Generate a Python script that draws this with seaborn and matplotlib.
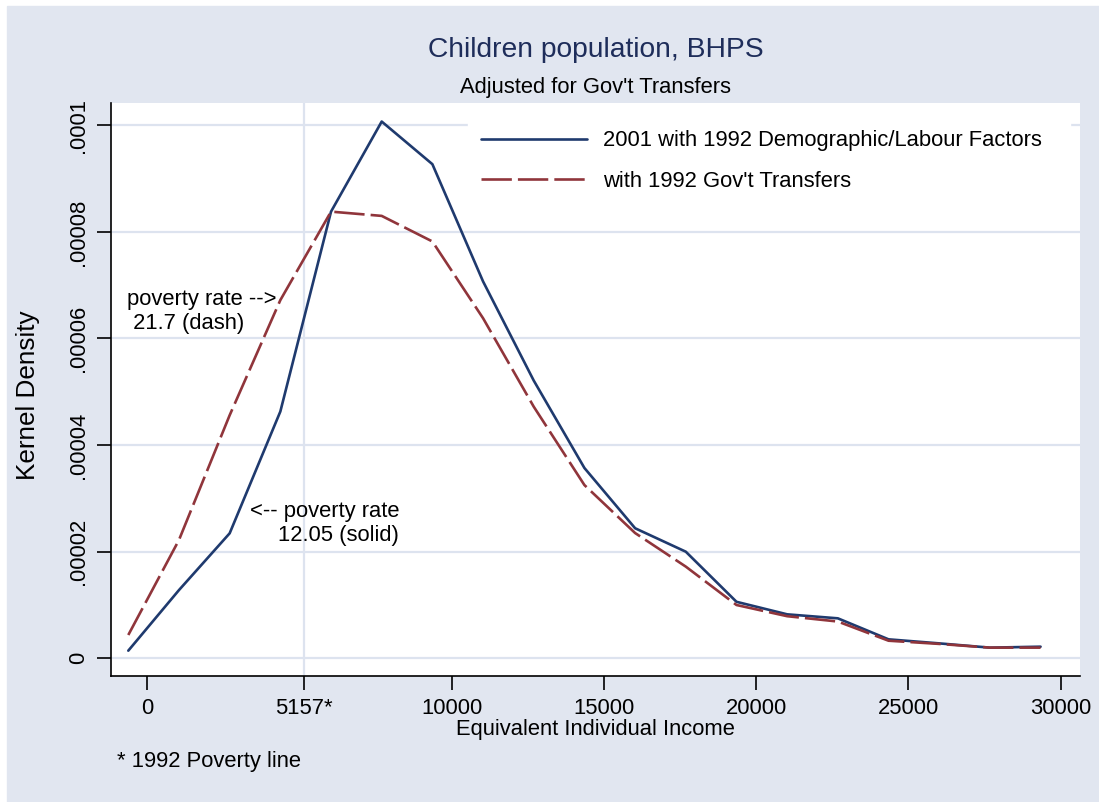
import matplotlib
matplotlib.use("Agg")
import matplotlib.pyplot as plt
import matplotlib.patches as mpatches
import numpy as np
import pandas as pd
import seaborn as sns

# kernel density evaluation points (income) and the two estimated densities
income = [-625, 1040, 2705, 4370, 6035, 7700, 9365, 11030, 12695, 14360,
          16025, 17690, 19355, 21020, 22685, 24350, 26015, 27680, 29345]
dens_2001 = [0.143, 1.28, 2.345, 4.63, 8.38, 10.07, 9.27, 7.07, 5.21, 3.57,
             2.44, 2.00, 1.06, 0.825, 0.75, 0.356, 0.28, 0.20, 0.218]
dens_1992 = [0.437, 2.22, 4.56, 6.72, 8.38, 8.30, 7.82, 6.38, 4.72, 3.25,
             2.35, 1.72, 1.00, 0.79, 0.69, 0.33, 0.27, 0.20, 0.20]
series_names = ["2001 with 1992 Demographic/Labour Factors",
                "with 1992 Gov't Transfers"]

x_ticks = [0, 5157, 10000, 15000, 20000, 25000, 30000]
x_ticklabels = ["0", "5157*", "10000", "15000", "20000", "25000", "30000"]
y_ticks = [0, 0.00002, 0.00004, 0.00006, 0.00008, 0.0001]
y_ticklabels = ["0", ".00002", ".00004", ".00006", ".00008", ".0001"]
poverty_line = 5157

df = pd.DataFrame({
    "income": income * 2,
    "density": [v * 1e-5 for v in dens_2001 + dens_1992],
    "series": [series_names[0]] * len(income) + [series_names[1]] * len(income),
})

sns.set_theme(style="white")
plt.rcParams["font.family"] = ["Liberation Sans", "DejaVu Sans"]
plt.rcParams["text.color"] = "black"
plt.rcParams["axes.labelcolor"] = "black"

bg = "#E1E6F0"
grid_col = "#DDE3EF"
navy = "#1F3A6E"
maroon = "#90353B"
fs = 15.8

W, H = 1099, 802
fig = plt.figure(figsize=(W / 100, H / 100), dpi=100)
fig.patch.set_facecolor("white")
fig.add_artist(mpatches.Rectangle((7 / W, 0), (W - 7) / W, (H - 6) / H,
                                  transform=fig.transFigure, color=bg, zorder=-10))

L, R, T, B = 111, 1080, 103, 676
ax = fig.add_axes([L / W, 1 - B / H, (R - L) / W, (B - T) / H])
ax.set_facecolor("white")

for yv in y_ticks:
    ax.axhline(yv, color=grid_col, lw=1.6, zorder=0)
ax.axvline(poverty_line, color=grid_col, lw=1.6, zorder=0)

sns.lineplot(data=df, x="income", y="density", hue="series", style="series",
             palette={series_names[0]: navy, series_names[1]: maroon},
             dashes={series_names[0]: "", series_names[1]: (11.5, 2.3)},
             linewidth=1.9, sort=False, estimator=None, ax=ax)

ax.set_xlim(-1193, 30640)
ax.set_ylim(-3.32e-6, 1.0418e-4)

ax.set_xticks(x_ticks)
ax.set_xticklabels(x_ticklabels, fontsize=fs)
ax.set_yticks(y_ticks)
ax.set_yticklabels(y_ticklabels, fontsize=fs, rotation=90, va="center")
ax.tick_params(axis="both", direction="out", length=10, width=1.2, color="black",
               labelcolor="black", bottom=True, left=True)
ax.tick_params(axis="x", pad=6)
ax.tick_params(axis="y", pad=6)

for s in ["top", "right"]:
    ax.spines[s].set_visible(False)
for s in ["left", "bottom"]:
    ax.spines[s].set_color("black")
    ax.spines[s].set_linewidth(1.2)

ax.set_xlabel("Equivalent Individual Income", fontsize=fs, color="black")
ax.set_ylabel("Kernel Density", fontsize=18.8, color="black")
ax.xaxis.label.set_va("center")
ax.yaxis.label.set_va("center")
ax.xaxis.set_label_coords(0.5, (B - 729) / (B - T))
ax.yaxis.set_label_coords((28 - L) / (R - L), (B - 395) / (B - T))

handles, labels = ax.get_legend_handles_labels()
leg = ax.legend(handles, labels, loc="upper left",
                bbox_to_anchor=((468 - L) / (R - L), (B - 123) / (B - T),
                                (1070 - 468) / (R - L), 0.01),
                mode="expand", fontsize=fs, frameon=True, fancybox=False,
                framealpha=1, facecolor="white", edgecolor="white",
                handlelength=4.8, handletextpad=0.75, labelspacing=0.88,
                borderpad=0.6, borderaxespad=0, labelcolor="black")

ax.text(-657, 6.51e-5, "poverty rate -->\n 21.7 (dash)", fontsize=fs,
        ha="left", va="center", linespacing=1.2, color="black")
ax.text(8269, 2.53e-5, "<-- poverty rate\n12.05 (solid)", fontsize=fs,
        ha="right", va="center", multialignment="right", linespacing=1.2,
        color="black")

cx = (L + R) / 2 / W
fig.text(cx, 1 - 50 / H, "Children population, BHPS", fontsize=20.3,
         color="#1E2D5A", ha="center", va="center")
fig.text(cx, 1 - 87 / H, "Adjusted for Gov't Transfers", fontsize=fs,
         color="black", ha="center", va="center")
fig.text(117 / W, 1 - 762 / H, "* 1992 Poverty line", fontsize=fs,
         color="black", ha="left", va="center")

fig.savefig("out.png", dpi=100, facecolor=fig.get_facecolor())
